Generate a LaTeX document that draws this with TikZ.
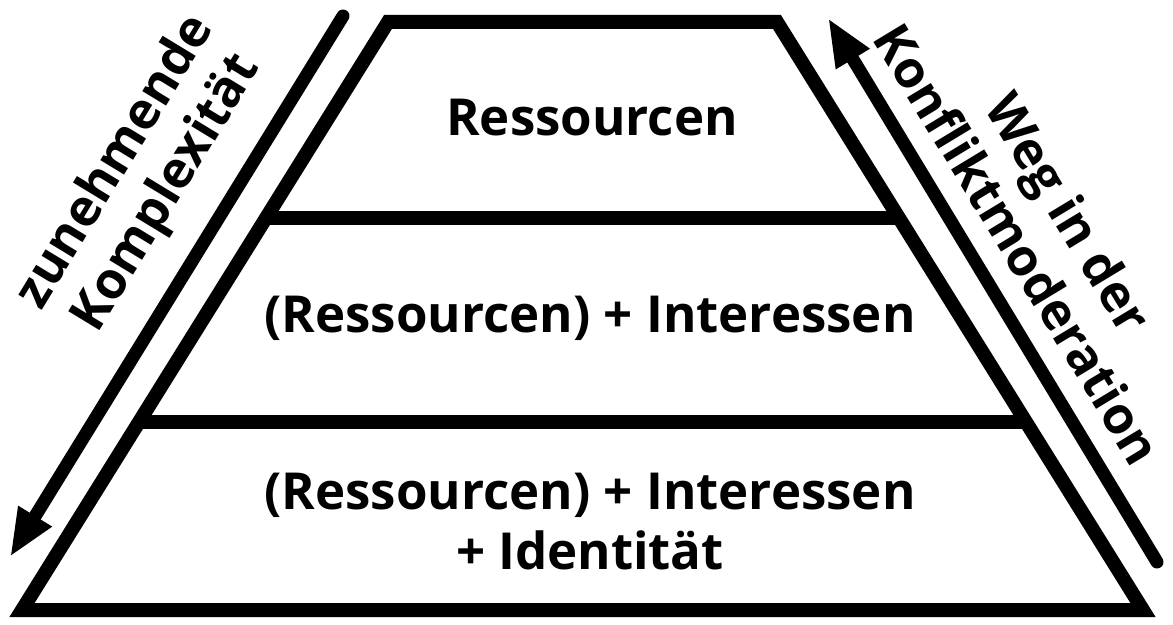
\documentclass[tikz,border=0pt]{standalone}
\usepackage{fontspec}
\setmainfont{Open Sans}
\usetikzlibrary{calc,arrows.meta}

\begin{document}
\begin{tikzpicture}[x=0.5pt,y=-0.5pt,
  pyr/.style={line width=7pt,line join=miter},
  lvl/.style={font=\bfseries\fontsize{25.5}{30}\selectfont,align=center},
  side/.style={line width=6.5pt,line cap=round,-{Triangle[length=24pt,width=18pt]}}]
\useasboundingbox (0,0) rectangle (1173,625);

\coordinate (t0) at (388,22);
\coordinate (t1) at (777,22);
\coordinate (b1) at (1143,610);
\coordinate (b0) at (22,610);
\coordinate (la0) at (343,16);
\coordinate (la1) at (10,557);
\coordinate (ra0) at (1157,562);
\coordinate (ra1) at (828,18);

  % pyramid and levels
  \draw[pyr] (t0) -- (t1) -- (b1) -- (b0) -- cycle;
  \draw[pyr] ($(t0)!0.333!(b0)$) -- ($(t1)!0.333!(b1)$);
  \draw[pyr] ($(t0)!0.680!(b0)$) -- ($(t1)!0.680!(b1)$);

\node[lvl] (res) at (592,118) {Ressourcen};
\node[lvl] (int) at (590,318) {(Ressourcen) + Interessen};
\node[lvl] (idt) at (590,522) {(Ressourcen) + Interessen\\+ Identität};

  % side arrows
\draw[side] (la0) -- (la1);
\draw[side] (ra0) -- (ra1);
\node[lvl,rotate=58.7] (kompl) at (142,178) {zunehmende\\Komplexität};
\node[lvl,rotate=-58.8] (weg) at (1044,228) {Weg in der\\Konfliktmoderation};
\end{tikzpicture}
\end{document}
